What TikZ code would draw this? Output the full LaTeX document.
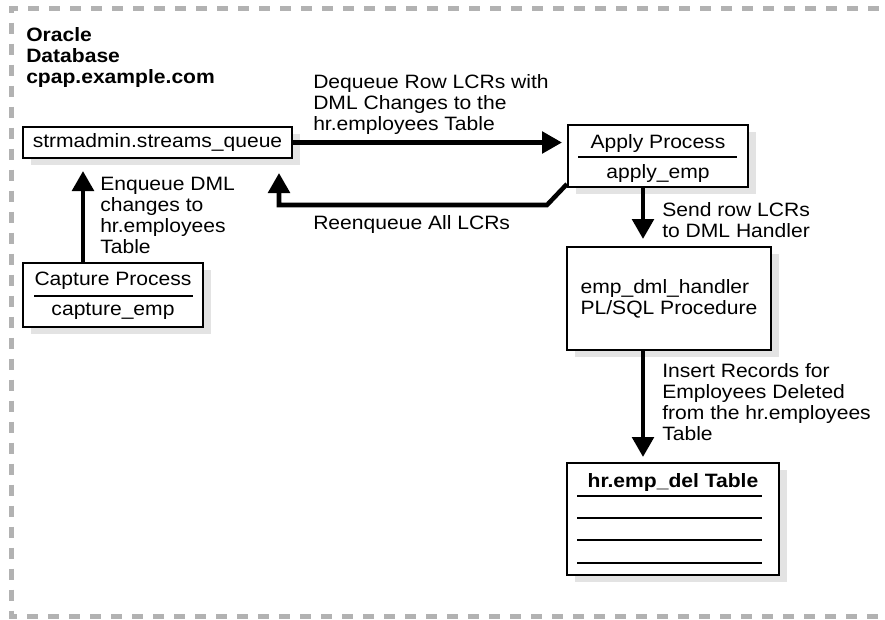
\documentclass[tikz,border=0pt]{standalone}
\usepackage{fontspec}
\setmainfont{Liberation Sans}[FakeStretch=1.09]
\usetikzlibrary{arrows.meta,shadows,calc}
\newcommand\diagfont{\fontsize{14.5pt}{15.75pt}\selectfont}

\begin{document}
\begin{tikzpicture}[x=.75pt,y=-.75pt, font=\diagfont,
	box/.style={draw, line width=1.5pt, fill=white, inner sep=0pt,
		drop shadow={shadow xshift=6pt, shadow yshift=-5.25pt, fill=black!11, opacity=1}},
	flow/.style={line width=3.4pt, -{Triangle[length=15pt,width=16pt]}},
	lbl/.style={anchor=base west, align=left, inner sep=0pt}]
	\useasboundingbox (0,0) rectangle (885,619);
	\draw[black!30, line width=3.75pt, dash pattern=on 8.25pt off 7.5pt] (900,8)--(11.5,8)--(11.5,616)--(900,616);
	% base anchor sits on the last line
	\node[lbl, font=\diagfont\bfseries] (db) at (26,83) {Oracle\\Database\\cpap.example.com};
	% boxes
	\node[box, minimum width=201.75pt, minimum height=23.25pt] (queue) at (157.5,142.5) {strmadmin.streams\_queue};
	\node[box, minimum width=135pt, minimum height=46.5pt] (apply) at (658,156) {};
	\node[box, minimum width=135pt, minimum height=48pt] (capture) at (113,295) {};
	\node[box, minimum width=153pt, minimum height=77.25pt, align=left] (handler) at (669,298.5) {emp\_dml\_handler\\PL/SQL Procedure\rule[-3pt]{0pt}{3pt}};
	\node[box, minimum width=159pt, minimum height=84pt] (empdel) at (673,519) {};
	\draw[line width=1.5pt] ($(apply.west)+(11,1)$) -- ($(apply.east)+(-12,1)$);
	\draw[line width=1.5pt] ($(capture.west)+(12,1)$) -- ($(capture.east)+(-11,1)$);
	\foreach \dy/\w in {-23/1.6pt,-1/1pt,21/1pt,44/1pt}
		\draw[line width=\w] ($(empdel.west)+(11,\dy)$) -- ($(empdel.east)+(-18,\dy)$);
	\path
	(658,148) node[anchor=base] (applyt) {Apply Process}
	(658,178) node[anchor=base] (applyn) {apply\_emp}
	(113,285) node[anchor=base] (capturet) {Capture Process}
	(113,315) node[anchor=base] (capturen) {capture\_emp}
	(673,487) node[anchor=base, font=\diagfont\bfseries] (empdelt) {hr.emp\_del Table};
	% connectors
	\coordinate (enqx) at (83,0);
	\coordinate (reenqx) at (279,0);
	\coordinate (sendx) at (643,0);
	\draw[flow, shorten >=3.75pt] (queue.east) -- (queue.east -| apply.west);
	\draw[flow, shorten >=9pt] (capture.north -| enqx) -- (queue.south -| enqx);
	\draw[flow, shorten >=10.5pt] ([yshift=3pt]apply.south west) -- ++(-20,21) -| (queue.south -| reenqx);
	\draw[flow, shorten >=5.25pt] (apply.south -| sendx) -- (handler.north -| sendx);
	\draw[flow, shorten >=3.75pt] (handler.south -| sendx) -- (empdel.north -| sendx);
	\path
	(313,130) node[lbl] (deq) {Dequeue Row LCRs with\\DML Changes to the\\hr.employees Table}
	(313,229) node[lbl] (reenq) {Reenqueue All LCRs}
	(100,253) node[lbl] (enq) {Enqueue DML\\changes to\\hr.employees\\Table}
	(662,237) node[lbl] (send) {Send row LCRs\\to DML Handler}
	(662,440) node[lbl] (ins) {Insert Records for\\Employees Deleted\\from the hr.employees\\Table};
\end{tikzpicture}
\end{document}
